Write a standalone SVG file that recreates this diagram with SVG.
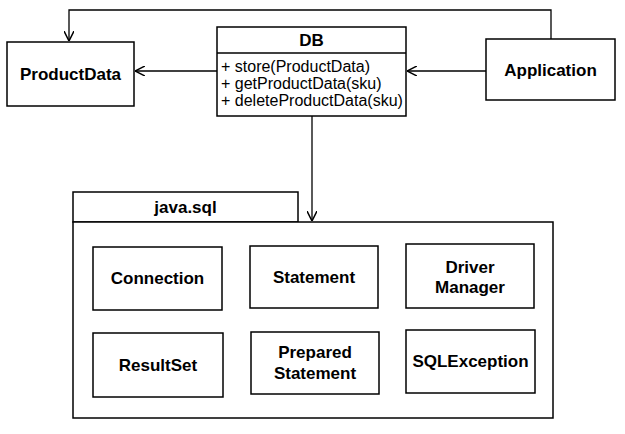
<svg xmlns="http://www.w3.org/2000/svg" width="625" height="434" viewBox="0 0 625 434">
<style>
.box{fill:#fff;stroke:#000;stroke-width:1.5}
.lbl{font-family:"Liberation Sans",Arial,sans-serif;font-weight:bold;font-size:17px;text-anchor:middle;fill:#000}
.mth{font-family:"Liberation Sans",Arial,sans-serif;font-size:16px;fill:#000}
.con{fill:none;stroke:#000;stroke-width:1.3}
</style>
<defs>
<marker id="open" viewBox="0 0 10 10" refX="10" refY="5" markerWidth="10" markerHeight="10" markerUnits="userSpaceOnUse" orient="auto">
<path d="M0,0 L10,5 L0,10" fill="none" stroke="#000" stroke-width="1.5"/>
</marker>
</defs>
<rect width="625" height="434" fill="#fff"/>
<g id="connectors">
<path class="con" d="M551,39 V10 H69 V41" marker-end="url(#open)"/>
<path class="con" d="M217,71 H135" marker-end="url(#open)"/>
<path class="con" d="M486,71 H407" marker-end="url(#open)"/>
<path class="con" d="M312,116 V221" marker-end="url(#open)"/>
</g>
<g id="ProductData">
<rect class="box" x="7" y="42" width="127" height="64"/>
<text class="lbl" x="70.5" y="80">ProductData</text>
</g>
<g id="DB">
<rect class="box" x="217" y="27" width="189" height="89"/>
<line x1="217" y1="53" x2="406" y2="53" stroke="#000" stroke-width="1.5"/>
<text class="lbl" x="311.5" y="46">DB</text>
<text class="mth" x="221" y="72">+ store(ProductData)</text>
<text class="mth" x="221" y="89">+ getProductData(sku)</text>
<text class="mth" x="221" y="106">+ deleteProductData(sku)</text>
</g>
<g id="Application">
<rect class="box" x="486" y="39" width="129" height="61"/>
<text class="lbl" x="550.5" y="76">Application</text>
</g>
<g id="java.sql">
<rect class="box" x="73" y="192" width="225" height="30"/>
<rect class="box" x="73" y="222" width="480" height="196"/>
<text class="lbl" x="185.5" y="213">java.sql</text>
</g>
<g id="Connection">
<rect class="box" x="93" y="247" width="129" height="63"/>
<text class="lbl" x="157.5" y="284">Connection</text>
</g>
<g id="Statement">
<rect class="box" x="250" y="246" width="128" height="62"/>
<text class="lbl" x="314" y="283">Statement</text>
</g>
<g id="DriverManager">
<rect class="box" x="406" y="244" width="128" height="64"/>
<text class="lbl" x="470" y="273">Driver</text>
<text class="lbl" x="470" y="293">Manager</text>
</g>
<g id="ResultSet">
<rect class="box" x="93" y="333" width="130" height="64"/>
<text class="lbl" x="158" y="371">ResultSet</text>
</g>
<g id="PreparedStatement">
<rect class="box" x="251" y="332" width="128" height="62"/>
<text class="lbl" x="315" y="358">Prepared</text>
<text class="lbl" x="315" y="379">Statement</text>
</g>
<g id="SQLException">
<rect class="box" x="406" y="330" width="129" height="63"/>
<text class="lbl" x="470.5" y="367">SQLException</text>
</g>
</svg>
